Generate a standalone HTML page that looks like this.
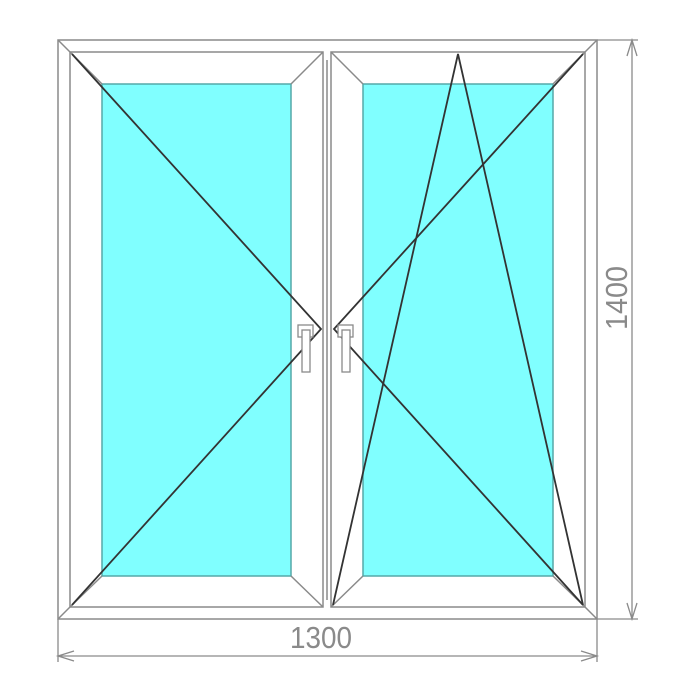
<!DOCTYPE html>
<html><head><meta charset="utf-8"><style>html,body{margin:0;padding:0;background:#fff}svg{display:block}</style></head>
<body>
<svg width="695" height="695" viewBox="0 0 695 695" xmlns="http://www.w3.org/2000/svg">
<g stroke="#8a8a8a" stroke-width="1.5" fill="none">
  <rect x="58" y="40" width="539" height="579" fill="#fff"/>
  <line x1="58" y1="40" x2="70" y2="52"/><line x1="597" y1="40" x2="585" y2="52"/>
  <line x1="58" y1="619" x2="70" y2="607"/><line x1="597" y1="619" x2="585" y2="607"/>
  <rect x="70" y="52" width="253" height="555" fill="#fff"/>
  <rect x="331" y="52" width="254" height="555" fill="#fff"/>
  <line x1="327" y1="60" x2="327" y2="600"/>
  <rect x="102" y="84" width="189" height="492" fill="#80ffff" stroke="#55a9a9"/>
  <rect x="363" y="84" width="190" height="492" fill="#80ffff" stroke="#55a9a9"/>
  <line x1="70" y1="52" x2="102" y2="84"/><line x1="323" y1="52" x2="291" y2="84"/>
  <line x1="70" y1="607" x2="102" y2="576"/><line x1="323" y1="607" x2="291" y2="576"/>
  <line x1="331" y1="52" x2="363" y2="84"/><line x1="585" y1="52" x2="553" y2="84"/>
  <line x1="331" y1="607" x2="363" y2="576"/><line x1="585" y1="607" x2="553" y2="576"/>
</g>
<g stroke="#333" stroke-width="1.8" fill="none">
  <polyline points="72,54 321,329 72,605"/>
  <polyline points="583,54 334,329 583,605"/>
  <polyline points="333,605 458,54 583,605"/>
</g>
<g stroke="#8a8a8a" stroke-width="1.3" fill="#fff">
  <rect x="298" y="325" width="15" height="12"/>
  <rect x="302" y="330" width="8" height="42"/>
  <rect x="338" y="325" width="15" height="12"/>
  <rect x="342" y="330" width="8" height="42"/>
</g>
<g stroke="#8a8a8a" stroke-width="1.3" fill="none">
  <line x1="58" y1="619" x2="58" y2="662"/><line x1="597" y1="619" x2="597" y2="662"/>
  <line x1="58" y1="656" x2="597" y2="656"/>
  <polyline points="74,651 58,656 74,661"/><polyline points="581,651 597,656 581,661"/>
  <line x1="597" y1="40" x2="638" y2="40"/><line x1="597" y1="619" x2="638" y2="619"/>
  <line x1="632" y1="40" x2="632" y2="619"/>
  <polyline points="627,56 632,40 637,56"/><polyline points="627,603 632,619 637,603"/>
</g>
<text x="290" y="648" textLength="62" lengthAdjust="spacingAndGlyphs" font-family="Liberation Sans, sans-serif" font-size="31" fill="#8a8a8a">1300</text>
<text x="265" y="626" textLength="64" lengthAdjust="spacingAndGlyphs" font-family="Liberation Sans, sans-serif" font-size="31" fill="#8a8a8a" transform="rotate(-90 626 298) translate(329 0) " style="display:none">1400</text>
<text x="0" y="0" textLength="64" lengthAdjust="spacingAndGlyphs" font-family="Liberation Sans, sans-serif" font-size="31" fill="#8a8a8a" transform="translate(627 330) rotate(-90)">1400</text>
</svg>
</body></html>
